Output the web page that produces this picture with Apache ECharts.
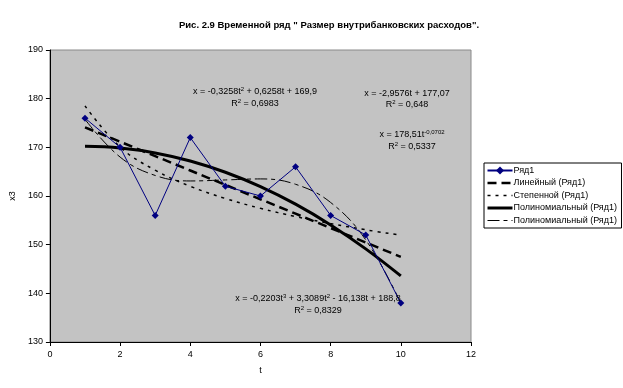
<!DOCTYPE html>
<html><head><meta charset="utf-8">
<script src="https://cdn.jsdelivr.net/npm/echarts@6/dist/echarts.min.js"></script>
<style>html,body{margin:0;padding:0;background:#fff}#c{width:623px;height:388px}</style>
</head><body><div id="c"></div>
<script>
const tValues = [1,2,3,4,5,6,7,8,9,10];
const series1 = [176,170,156,172,162,160,166,156,152,138];
const linearTrend = [174.11,171.15,168.20,165.24,162.28,159.32,156.37,153.41,150.45,147.49];
const powerTrend = [178.51,170.06,165.30,162.00,159.49,157.47,155.78,154.33,153.06,151.94];
const poly2Trend = [170.20,169.85,168.85,167.19,164.88,161.93,158.32,154.06,149.14,143.58];
const poly3Trend = [175.75,168.00,164.22,163.09,163.30,163.51,162.41,158.67,150.98,138.01];
const seriesNames = ['Ряд1','Линейный (Ряд1)','Степенной (Ряд1)','Полиномиальный (Ряд1)','Полиномиальный (Ряд1) '];
const xTicks = [0,2,4,6,8,10,12];
const yTicks = [130,140,150,160,170,180,190];

const pairs = arr => tValues.map((t,i)=>[t,arr[i]]);
const F = 'Arial, "Liberation Sans", sans-serif';
const chart = echarts.init(document.getElementById('c'));
const eq = (x,y,parts) => ({type:'text',x:x,y:y,z:10,style:{
  rich:{n:{fontSize:9,fontFamily:F,fill:'#000',lineHeight:11},s:{fontSize:6,fontFamily:F,fill:'#000',verticalAlign:'top',lineHeight:8}},
  text:parts,align:'center',verticalAlign:'top',textAlign:'center',textVerticalAlign:'top'}});
const lineStyles = [
  {color:'#000080',width:1},
  {color:'#000',width:2.5,type:[9,5]},
  {color:'#000',width:1.5,type:[3,5]},
  {color:'#000',width:3},
  {color:'#000',width:1,type:[12,4,4,4]}
];
chart.setOption({
  animation:false,
  backgroundColor:'#fff',
  title:{text:'Рис. 2.9 Временной ряд " Размер внутрибанковских расходов".',left:324,top:15,textAlign:'center',textStyle:{fontSize:9.5,fontWeight:'bold',fontFamily:F,color:'#000'}},
  grid:{left:47,top:50,right:152,bottom:46,show:true,backgroundColor:'#c3c3c3',borderColor:'#8a8a8a',borderWidth:1},
  xAxis:{type:'value',min:0,max:12,interval:2,name:'t',nameLocation:'middle',nameGap:24,
    nameTextStyle:{fontSize:9,fontFamily:F,color:'#000'},
    axisLine:{show:true,lineStyle:{color:'#000',width:1}},axisTick:{show:true,length:4,lineStyle:{color:'#000'}},
    axisLabel:{fontSize:9,fontFamily:F,color:'#000',margin:8,formatter:v=>xTicks.includes(v)?String(v):''},splitLine:{show:false}},
  yAxis:{type:'value',min:130,max:190,interval:10,name:'x3',nameLocation:'middle',nameGap:32,
    nameTextStyle:{fontSize:9,fontFamily:F,color:'#000'},
    axisLine:{show:true,lineStyle:{color:'#000',width:1}},axisTick:{show:true,length:4,lineStyle:{color:'#000'}},
    axisLabel:{fontSize:9,fontFamily:F,color:'#000',margin:7,formatter:v=>yTicks.includes(v)?String(v):''},splitLine:{show:false}},
  legend:{orient:'vertical',left:484,top:163,backgroundColor:'#fff',borderColor:'#000',borderWidth:1,padding:[3,2,3,2],
    itemWidth:25,itemHeight:10,itemGap:3.5,textStyle:{fontSize:9,fontFamily:F,color:'#000',padding:[0,0,0,-4]},
    data:seriesNames.map((n,i)=>i===0?{name:n}:{name:n,itemStyle:{opacity:0},lineStyle:lineStyles[i]})},
  graphic:[
    eq(255,86,'{n|x = -0,3258t}{s|2}{n| + 0,6258t + 169,9}'),
    eq(255,98,'{n|R}{s|2}{n| = 0,6983}'),
    eq(407,88,'{n|x = -2,9576t + 177,07}'),
    eq(407,99,'{n|R}{s|2}{n| = 0,648}'),
    eq(412,129,'{n|x = 178,51t}{s|-0,0702}'),
    eq(412,141,'{n|R}{s|2}{n| = 0,5337}'),
    eq(318,293,'{n|x = -0,2203t}{s|3}{n| + 3,3089t}{s|2}{n| - 16,138t + 188,8}'),
    eq(318,305,'{n|R}{s|2}{n| = 0,8329}')
  ],
  series:[
    {name:seriesNames[0],type:'line',data:pairs(series1),symbol:'diamond',symbolSize:7,z:5,
      lineStyle:lineStyles[0],itemStyle:{color:'#000080'}},
    {name:seriesNames[1],type:'line',data:pairs(linearTrend),symbol:'none',
      lineStyle:lineStyles[1],itemStyle:{color:'#000'}},
    {name:seriesNames[2],type:'line',data:pairs(powerTrend),symbol:'none',smooth:0.4,
      lineStyle:lineStyles[2],itemStyle:{color:'#000'}},
    {name:seriesNames[3],type:'line',data:pairs(poly2Trend),symbol:'none',smooth:0.4,
      lineStyle:lineStyles[3],itemStyle:{color:'#000'}},
    {name:seriesNames[4],type:'line',data:pairs(poly3Trend),symbol:'none',smooth:0.4,
      lineStyle:lineStyles[4],itemStyle:{color:'#000'}}
  ]
});
</script></body></html>
